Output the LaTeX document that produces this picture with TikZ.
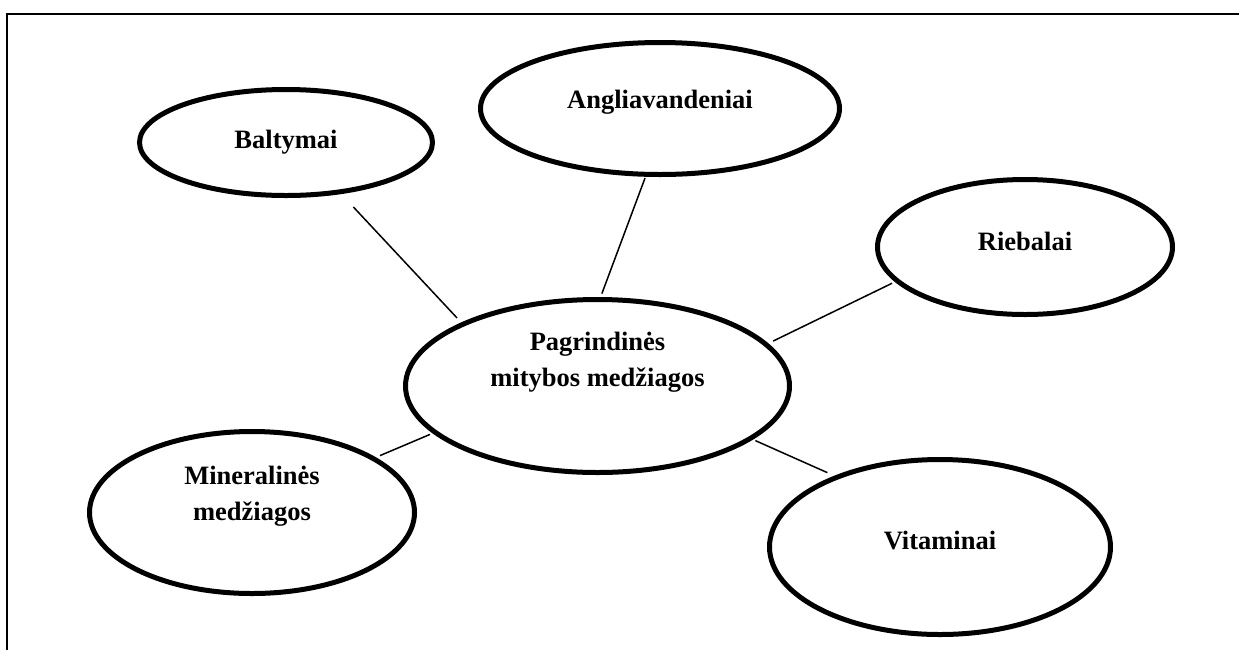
\documentclass[tikz,border=0pt]{standalone}
\usepackage{fontspec}
\setmainfont{Liberation Serif}
\usetikzlibrary{shapes.geometric}
\begin{document}
\begin{tikzpicture}[x=0.6pt,y=-0.6pt,
  bubble/.style={draw, ellipse, line width=3pt, inner sep=0pt},
  lbl/.style={font=\fontsize{15.9}{21.6}\selectfont\bfseries, anchor=base, inner sep=0pt},
  link/.style={line width=0.9pt}]
\useasboundingbox (0,0) rectangle (1239,650);

% frame (top and left edges)
\draw[line width=1.2pt] (7,650) -- (7,13.5) -- (1239,13.5);

% topic bubbles
\node[bubble, minimum width=175.8pt, minimum height=63.6pt,
  label={[lbl, yshift=0pt]center:Baltymai}] (balt) at (286,142.5) {};
\node[bubble, minimum width=215.4pt, minimum height=79.2pt,
  label={[lbl, yshift=3.9pt]center:Angliavandeniai}] (angl) at (660,108.5) {};
\node[bubble, minimum width=177pt, minimum height=81pt,
  label={[lbl, yshift=3.6pt]center:Riebalai}] (rieb) at (1025,247) {};
\node[bubble, minimum width=230.4pt, minimum height=103.8pt,
  label={[lbl, yshift=15pt]center:{\begin{tabular}[t]{@{}c@{}}Pagrindinės\\mitybos medžiagos\end{tabular}}}] (main) at (597.5,386) {};
\node[bubble, minimum width=195pt, minimum height=97.2pt,
  label={[lbl, yshift=10.5pt]center:{\begin{tabular}[t]{@{}c@{}}Mineralinės\\medžiagos\end{tabular}}}] (mine) at (252,512.5) {};
\node[bubble, minimum width=204.6pt, minimum height=105pt,
  label={[lbl, yshift=4.2pt]center:Vitaminai}] (vita) at (940,547) {};

% connectors to the central bubble
\draw[link, shorten <=10.6pt, shorten >=3.7pt] (balt.-43.2) -- (main.155);
\draw[link, shorten <=0.8pt, shorten >=2.2pt] (angl.-102) -- (main.88.1);
\draw[link, shorten <=1.9pt, shorten >=3.2pt] (rieb.-165.1) -- (main.14.5);
\draw[link, shorten <=2.7pt, shorten >=1.8pt] (mine.24.4) -- (main.-164.6);
\draw[link, shorten <=1.6pt, shorten >=4.6pt] (main.-19.75) -- (vita.146.2);
\end{tikzpicture}
\end{document}
